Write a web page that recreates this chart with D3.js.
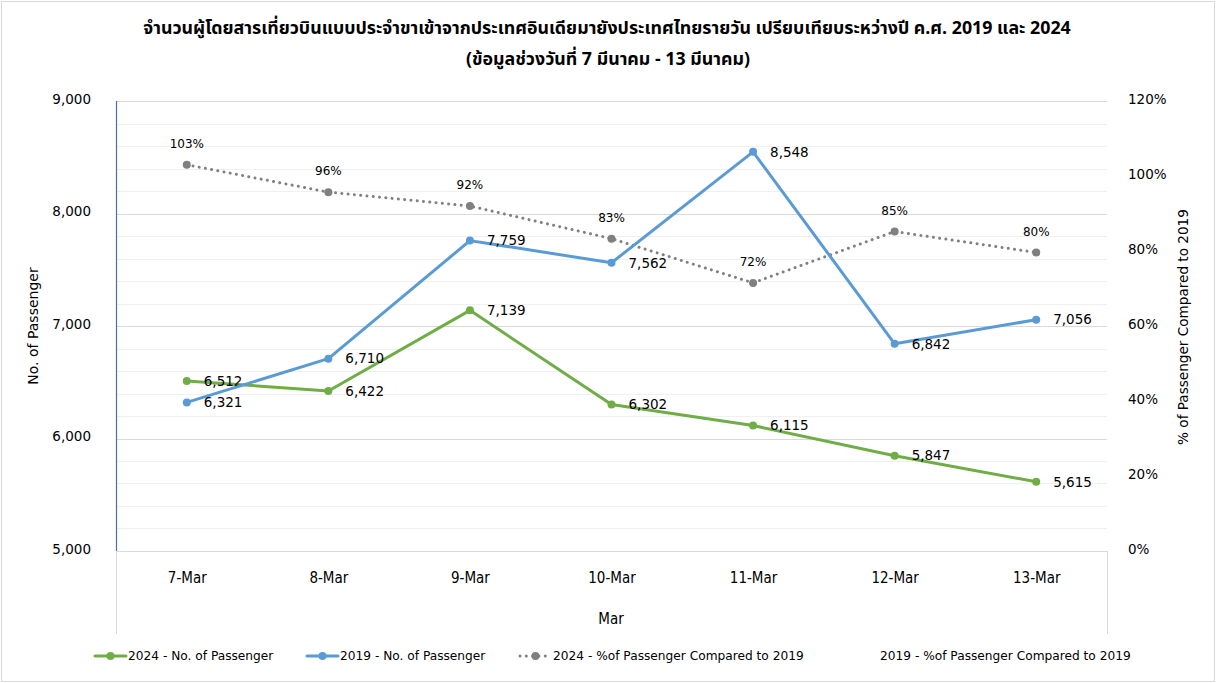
<!DOCTYPE html>
<html>
<head>
<meta charset="utf-8">
<script src="https://cdn.jsdelivr.net/npm/d3@7"></script>
<style>
  body { margin: 0; background: #fff; }
  svg { display: block; }
  text { font-family: "DejaVu Sans", Tahoma, sans-serif; fill: #000; }
</style>
</head>
<body>
<div id="chart"></div>
<script>
var w = 1216, h = 683;

// data
var days = ['7-Mar', '8-Mar', '9-Mar', '10-Mar', '11-Mar', '12-Mar', '13-Mar'];
var pax2024 = [6512, 6422, 7139, 6302, 6115, 5847, 5615];
var pax2019 = [6321, 6710, 7759, 7562, 8548, 6842, 7056];
var pct2024 = [1.03, 0.957, 0.92, 0.833, 0.715, 0.852, 0.796];
var paxTicks = [5000, 6000, 7000, 8000, 9000];
var pctTicks = [0, 0.2, 0.4, 0.6, 0.8, 1.0, 1.2];
var legendNames = ['2024 - No. of Passenger', '2019 - No. of Passenger',
  '2024 - %of Passenger Compared to 2019', '2019 - %of Passenger Compared to 2019'];

var green = '#70ad47', blue = '#5b9bd5', grey = '#808080';

function init() {
  var svg = d3.select('#chart').append('svg').attr('width', w).attr('height', h);

  // outer frame
  svg.append('rect').attr('x', 1.5).attr('y', 1.5).attr('width', w - 3).attr('height', h - 3)
    .attr('fill', '#fff').attr('stroke', '#d9d9d9');

  var pLeft = 116, pRight = 1107, pTop = 101, pBottom = 551;

  var x = d3.scalePoint().domain(days).range([pLeft, pRight]).padding(0.5);
  var y = d3.scaleLinear().domain([5000, 9000]).range([pBottom, pTop]);
  var y2 = d3.scaleLinear().domain([0, 1.2]).range([pBottom, pTop]);

  // title
  var thai = '"Noto Sans Thai", Tahoma, "DejaVu Sans", sans-serif';
  var title = svg.append('g').attr('font-weight', 'bold').attr('text-anchor', 'middle');
  title.append('text').attr('x', 607).attr('y', 34).style('font-size', '17.8px')
    .style('font-family', thai)
    .text('จำนวนผู้โดยสารเที่ยวบินแบบประจำขาเข้าจากประเทศอินเดียมายังประเทศไทยรายวัน เปรียบเทียบระหว่างปี ค.ศ. 2019 และ 2024');
  title.append('text').attr('x', 608).attr('y', 65).style('font-size', '17.8px')
    .style('font-family', thai)
    .text('(ข้อมูลช่วงวันที่ 7 มีนาคม - 13 มีนาคม)');

  // minor + major gridlines
  var minor = d3.range(5000, 9001, 200);
  svg.append('g').selectAll('line').data(minor).enter().append('line')
    .attr('x1', pLeft).attr('x2', pRight)
    .attr('y1', function (d) { return Math.round(y(d)) + 0.5; })
    .attr('y2', function (d) { return Math.round(y(d)) + 0.5; })
    .attr('stroke', function (d) { return d % 1000 == 0 ? '#d9d9d9' : '#f0f0f0'; });

  // left axis line
  svg.append('line').attr('x1', pLeft + 0.5).attr('x2', pLeft + 0.5).attr('y1', pTop).attr('y2', pBottom)
    .attr('stroke', '#4a6fa5').attr('stroke-width', 1.2);
  // category axis extensions
  [pLeft, pRight].forEach(function (xx) {
    svg.append('line').attr('x1', xx + 0.5).attr('x2', xx + 0.5).attr('y1', pBottom).attr('y2', 634)
      .attr('stroke', '#d9d9d9');
  });

  // left axis
  var yAxis = svg.append('g').attr('transform', 'translate(' + pLeft + ',0)')
    .call(d3.axisLeft(y).tickValues(paxTicks).tickFormat(d3.format(',')).tickSize(0).tickPadding(25));
  yAxis.select('.domain').remove();
  yAxis.selectAll('text').style('font-size', '13.5px').attr('dy', '0.17em');

  // right axis
  var y2Axis = svg.append('g').attr('transform', 'translate(' + pRight + ',0)')
    .call(d3.axisRight(y2).tickValues(pctTicks).tickFormat(d3.format('.0%')).tickSize(0).tickPadding(21));
  y2Axis.select('.domain').remove();
  y2Axis.selectAll('text').style('font-size', '13.5px').attr('dy', '0.17em');

  // x axis labels
  var narrow = '"Liberation Sans Narrow", "DejaVu Sans Condensed", sans-serif';
  var xAxis = svg.append('g').attr('transform', 'translate(0,' + pBottom + ')')
    .call(d3.axisBottom(x).tickSize(0).tickPadding(21));
  xAxis.select('.domain').remove();
  xAxis.selectAll('text').style('font-size', '15px').style('font-family', narrow);

  // axis titles
  svg.append('text').attr('text-anchor', 'middle').attr('transform', 'translate(38,326) rotate(-90)')
    .style('font-size', '14px').text('No. of Passenger');
  svg.append('text').attr('text-anchor', 'middle').attr('transform', 'translate(1188,327) rotate(-90)')
    .style('font-size', '13.6px').text('% of Passenger Compared to 2019');
  svg.append('text').attr('text-anchor', 'middle').attr('x', 611).attr('y', 624)
    .style('font-size', '15px').style('font-family', narrow).text('Mar');

  // series
  function drawSeries(vals, scale, color, dotted) {
    var line = d3.line()
      .x(function (d, i) { return x(days[i]); })
      .y(function (d) { return scale(d); });
    var g = svg.append('g');
    g.append('path').datum(vals)
      .attr('d', line)
      .attr('fill', 'none').attr('stroke', color)
      .attr('stroke-width', 3)
      .attr('stroke-linecap', 'round').attr('stroke-linejoin', 'round')
      .attr('stroke-dasharray', dotted ? '0.01 6.3' : null);
    g.selectAll('circle').data(vals).enter().append('circle')
      .attr('cx', function (d, i) { return x(days[i]); })
      .attr('cy', function (d) { return scale(d); })
      .attr('r', 4).attr('fill', color);
    return g;
  }

  drawSeries(pct2024, y2, grey, true)
    .selectAll('text.lbl').data(pct2024).enter().append('text')
    .attr('class', 'lbl')
    .attr('text-anchor', 'middle')
    .attr('x', function (d, i) { return x(days[i]); })
    .attr('y', function (d) { return y2(d) - 17; })
    .style('font-size', '12px').text(d3.format('.0%'));

  [[pax2024, green], [pax2019, blue]].forEach(function (s) {
    drawSeries(s[0], y, s[1], false)
      .selectAll('text.lbl').data(s[0]).enter().append('text')
      .attr('class', 'lbl')
      .attr('x', function (d, i) { return x(days[i]) + 17; })
      .attr('y', function (d) { return y(d); })
      .attr('dy', '0.35em')
      .style('font-size', '13.5px').text(d3.format(','));
  });

  // legend
  var legendX = [95, 307, 520, 847];
  var legendColors = [green, blue, grey, null];
  var legend = svg.append('g').attr('transform', 'translate(0,656)');
  legendNames.forEach(function (name, i) {
    var lx = legendX[i];
    if (legendColors[i]) {
      legend.append('line').attr('x1', lx).attr('x2', lx + 31).attr('y1', 0).attr('y2', 0)
        .attr('stroke', legendColors[i]).attr('stroke-width', 3)
        .attr('stroke-linecap', 'round')
        .attr('stroke-dasharray', i == 2 ? '0.01 6.3' : null);
      legend.append('circle').attr('cx', lx + 15.5).attr('cy', 0).attr('r', 4).attr('fill', legendColors[i]);
    }
    legend.append('text').attr('x', lx + 33).attr('dy', '0.35em')
      .style('font-size', '12.2px').text(name);
  });
}

window.onload = init;
</script>
</body>
</html>
